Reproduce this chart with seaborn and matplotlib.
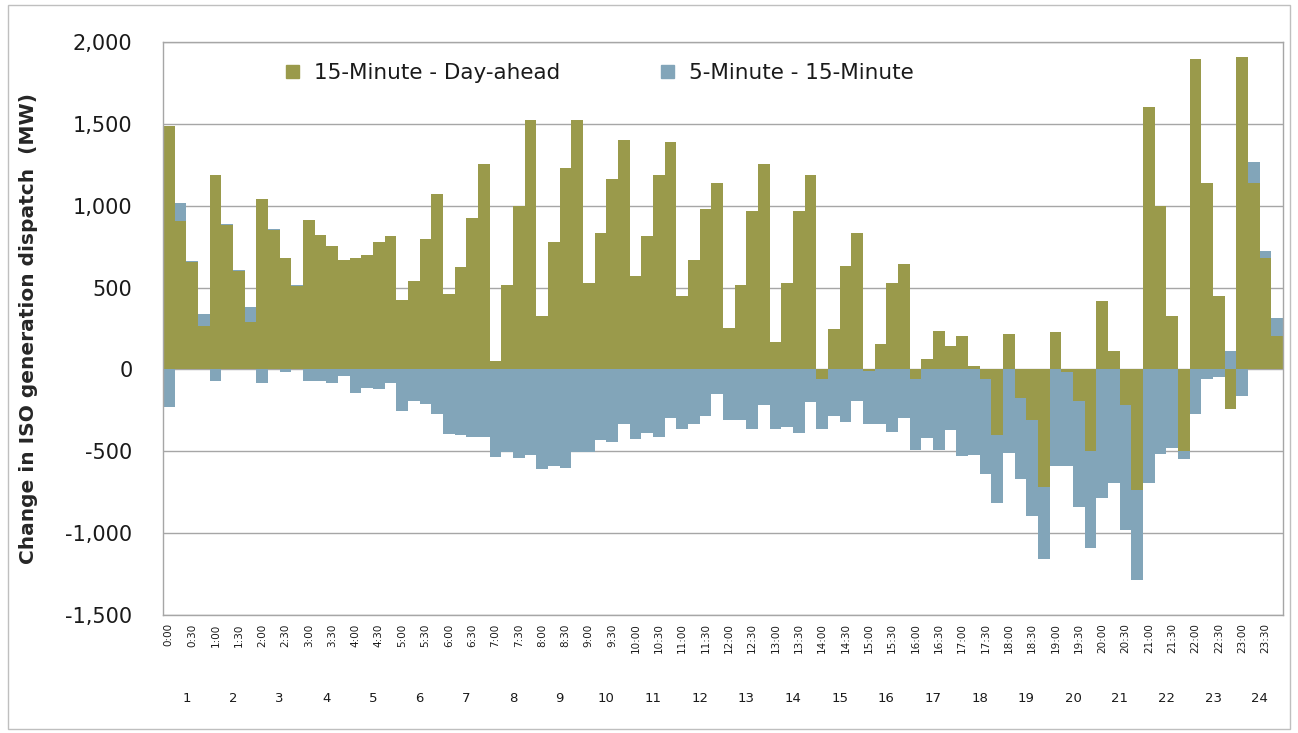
import numpy as np
import pandas as pd
import seaborn as sns
import matplotlib.pyplot as plt
import matplotlib.transforms as mtransforms
from matplotlib.patches import Patch, Rectangle
from matplotlib.ticker import FuncFormatter

# 15-minute intervals of the day and hour-ending groups
intervals = [f"{h}:{m:02d}" for h in range(24) for m in (0, 15, 30, 45)]
hours = [str(h) for h in range(1, 25)]

# 15-Minute minus Day-ahead (MW)
fmm_minus_da = [1486, 904, 657, 263, 1190, 881, 602, 291, 1041, 854, 682, 510,
                911, 819, 751, 671, 682, 698, 778, 817, 423, 542, 794, 1071,
                462, 623, 927, 1254, 53, 515, 996, 1522, 327, 778, 1231, 1522,
                526, 831, 1163, 1403, 570, 817, 1190, 1389, 451, 671, 977, 1138,
                252, 515, 968, 1254, 167, 526, 968, 1190, -57, 250, 634, 831,
                -10, 153, 526, 645, -57, 64, 233, 142, 206, 21, -57, -400,
                217, -176, -309, -721, 229, -18, -190, -497, 417, 114, -217, -739,
                1602, 1000, 327, -497, 1895, 1138, 446, -240, 1907, 1138, 682, 206]

# 5-Minute minus 15-Minute (MW)
rtd_minus_fmm = [-229, 115, 5, 73, -69, 5, 5, 92, -85, 5, -16, 5,
                 -69, -69, -80, -41, -144, -114, -121, -85, -252, -190, -213, -275,
                 -396, -400, -412, -412, -533, -504, -543, -520, -611, -588, -600, -504,
                 -504, -430, -442, -336, -428, -389, -414, -298, -362, -332, -282, -153,
                 -309, -309, -362, -217, -362, -350, -389, -201, -305, -286, -320, -190,
                 -322, -336, -385, -298, -435, -419, -492, -373, -531, -522, -579, -413,
                 -510, -492, -584, -435, -588, -570, -650, -595, -783, -694, -764, -550,
                 -694, -515, -481, -52, -270, -57, -46, 114, -160, 132, 44, 108]

olive = "#9a9a4b"
steel = "#82a5b9"

df = pd.DataFrame({"interval": intervals, "da": fmm_minus_da, "rt": rtd_minus_fmm})
# excel-style stacking: same sign stacks on top of the olive, opposite sign starts at 0
same_sign = np.sign(df["da"]) == np.sign(df["rt"])
df["rt_top"] = np.where(same_sign, df["da"] + df["rt"], df["rt"])

sns.set_style("white")
plt.rcParams["font.family"] = ["DejaVu Sans"]
plt.rcParams["text.color"] = "#1a1a1a"
plt.rcParams["xtick.color"] = "#1a1a1a"
plt.rcParams["ytick.color"] = "#1a1a1a"

fig = plt.figure(figsize=(12.98, 7.33), dpi=100)
ax = fig.add_axes([163 / 1298, 1 - 615 / 733, 1120 / 1298, 573 / 733])

sns.barplot(data=df, x="interval", y="rt_top", order=intervals, color=steel,
            saturation=1, width=1, linewidth=0, errorbar=None, ax=ax)
sns.barplot(data=df, x="interval", y="da", order=intervals, color=olive,
            saturation=1, width=1, linewidth=0, errorbar=None, ax=ax)

ax.set_xlim(-0.5, len(intervals) - 0.5)
ax.set_ylim(-1500, 2000)
ax.set_yticks(range(-1500, 2001, 500))
ax.yaxis.set_major_formatter(FuncFormatter(lambda v, p: f"{v:,.0f}"))
ax.tick_params(axis="y", length=0, pad=22, labelsize=15)

ax.set_xticks(range(0, len(intervals), 2))
ax.set_xticklabels(intervals[::2], rotation=90, fontsize=7.5)
ax.tick_params(axis="x", length=0, pad=6)
ax.set_xlabel("")

ax.yaxis.grid(True, color="#a6a6a6", linewidth=1)
ax.set_axisbelow(True)
for s in ax.spines.values():
    s.set_color("#a6a6a6")
    s.set_linewidth(1)

trans = mtransforms.blended_transform_factory(ax.transData, ax.transAxes)
for i, h in enumerate(hours):
    ax.text(4 * i + 1.5, -0.145, h, transform=trans, ha="center", va="center", fontsize=9.5)

ax.set_ylabel("Change in ISO generation dispatch  (MW)", fontweight="bold", fontsize=14.5)
ax.yaxis.set_label_coords(-0.112, 0.5)

handles = [Patch(color=olive, label="15-Minute - Day-ahead"),
           Patch(color=steel, label="5-Minute - 15-Minute")]
ax.legend(handles=handles, loc="center", bbox_to_anchor=(0.39, 0.946), ncol=2,
          frameon=False, fontsize=15.5, handlelength=0.6, handleheight=0.6,
          handletextpad=0.7, columnspacing=4.7)

fig.patches.append(Rectangle((8 / 1298, 4 / 733), 1282 / 1298, 724 / 733,
                             transform=fig.transFigure, fill=False,
                             edgecolor="#bfbfbf", linewidth=1))

fig.savefig("out.png", dpi=100)
